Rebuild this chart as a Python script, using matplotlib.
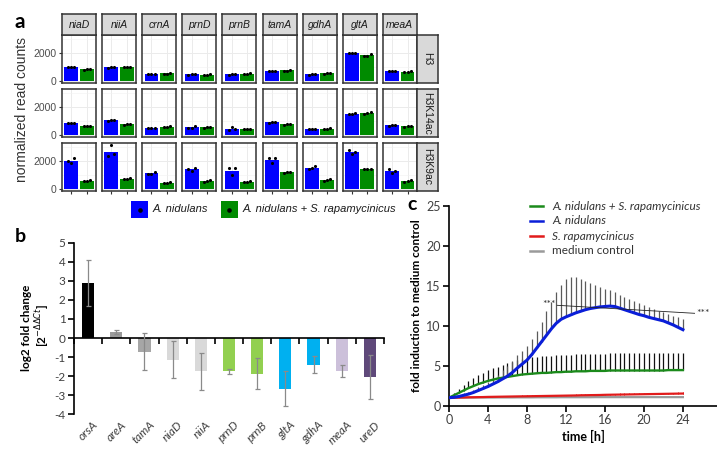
import matplotlib
matplotlib.use("Agg")
import matplotlib.pyplot as plt
from matplotlib.lines import Line2D
from matplotlib.patches import Rectangle
import numpy as np

plt.rcParams["font.family"] = ["Lato", "DejaVu Sans"]
plt.rcParams["axes.unicode_minus"] = False

# ---------------- panel a: normalized read counts, 3 replicates per bar
genes_a = ["niaD", "niiA", "crnA", "prnD", "prnB", "tamA", "gdhA", "gltA", "meaA"]
marks = ["H3", "H3K14ac", "H3K9ac"]
h3_an = [[950, 990, 1000], [940, 990, 1000], [470, 490, 510], [430, 450, 470], [430, 450, 470],
         [690, 710, 730], [430, 450, 470], [1950, 1980, 2000], [690, 710, 730]]
h3_co = [[790, 820, 860], [950, 980, 1010], [490, 510, 560], [410, 430, 460], [470, 500, 530],
         [700, 730, 780], [490, 520, 550], [1740, 1770, 1900], [610, 640, 690]]
k14_an = [[820, 840, 860], [1000, 1020, 1040], [460, 480, 500], [470, 500, 620], [330, 530, 380],
          [860, 890, 930], [390, 410, 430], [1450, 1500, 1560], [640, 670, 720]]
k14_co = [[620, 640, 660], [710, 740, 770], [540, 570, 600], [500, 530, 560], [380, 400, 420],
          [700, 740, 790], [410, 430, 450], [1490, 1550, 1640], [570, 600, 640]]
k9_an = [[1950, 1850, 2200], [2350, 3100, 2500], [1050, 1080, 1180], [1400, 1250, 1500], [1450, 950, 1450],
         [2220, 1800, 2200], [1380, 1460, 1600], [2750, 2450, 2600], [1420, 1150, 1300]]
k9_co = [[550, 570, 600], [670, 700, 740], [410, 440, 490], [470, 540, 630], [470, 500, 530],
         [1150, 1190, 1230], [560, 640, 720], [1380, 1400, 1440], [510, 560, 650]]

# ---------------- panel b: qRT-PCR log2 fold change
genes_b = ["orsA", "areA", "tamA", "niaD", "niiA", "prnD", "prnB", "gltA", "gdhA", "meaA", "ureD"]
log2fc = [2.9, 0.33, -0.73, -1.13, -1.75, -1.75, -1.87, -2.65, -1.4, -1.72, -2.03]
sd_b = [1.2, 0.1, 0.97, 0.97, 0.98, 0.15, 0.8, 0.92, 0.45, 0.32, 1.15]
colors_b = ["#000000", "#9a9a9a", "#a6a6a6", "#d9d9d9", "#d9d9d9", "#92d050", "#92d050",
            "#00b0f0", "#00b0f0", "#ccc0da", "#5f497a"]

# ---------------- panel c: fold induction over time (every 0.5 h)
hours = np.arange(0, 24.5, 0.5)
an_co = [1.0, 1.3, 1.6, 1.9, 2.2, 2.45, 2.7, 2.9, 3.1, 3.25, 3.4, 3.5, 3.6, 3.7, 3.8, 3.9, 3.95,
         4.0, 4.05, 4.1, 4.1, 4.15, 4.2, 4.2, 4.25, 4.25, 4.3, 4.3, 4.3, 4.35, 4.35, 4.35, 4.35,
         4.4, 4.4, 4.4, 4.4, 4.4, 4.4, 4.4, 4.4, 4.4, 4.4, 4.4, 4.4, 4.45, 4.45, 4.45, 4.45]
an_co_err = [0, 0.3, 0.5, 0.7, 0.9, 1.0, 1.1, 1.2, 1.35, 1.45, 1.5, 1.6, 1.7, 1.8, 1.9, 1.95, 2.0,
             2.05, 2.1, 2.1, 2.1, 2.1, 2.1, 2.15, 2.15, 2.15, 2.15, 2.15, 2.15, 2.15, 2.15, 2.15, 2.15,
             2.15, 2.15, 2.15, 2.15, 2.15, 2.15, 2.15, 2.15, 2.15, 2.15, 2.15, 2.15, 2.1, 2.1, 2.1, 2.1]
an = [1.0, 1.05, 1.15, 1.3, 1.45, 1.65, 1.9, 2.15, 2.4, 2.7, 3.0, 3.35, 3.7, 4.15, 4.7, 5.2, 5.7,
      6.4, 7.2, 8.0, 8.8, 9.6, 10.3, 10.8, 11.1, 11.35, 11.6, 11.8, 12.0, 12.15, 12.25, 12.35, 12.4,
      12.45, 12.4, 12.2, 12.0, 11.8, 11.6, 11.4, 11.25, 11.05, 10.9, 10.75, 10.6, 10.35, 10.1, 9.8, 9.5]
an_err = [0, 0.1, 0.2, 0.25, 0.3, 0.35, 0.4, 0.5, 0.6, 0.75, 0.9, 1.1, 1.3, 1.5, 1.6, 1.7, 1.8,
          1.95, 2.1, 2.5, 3.0, 3.4, 3.9, 4.3, 4.7, 4.8, 4.5, 4.0, 3.6, 3.2, 2.85, 2.5, 2.2,
          2.0, 1.8, 1.7, 1.6, 1.55, 1.5, 1.45, 1.35, 1.3, 1.2, 1.15, 1.1, 1.1, 1.1, 1.3, 1.4]
sr = [1.0, 1.0, 1.02, 1.03, 1.05, 1.06, 1.07, 1.08, 1.1, 1.11, 1.12, 1.13, 1.14, 1.15, 1.16, 1.17, 1.18,
      1.19, 1.2, 1.21, 1.22, 1.23, 1.24, 1.25, 1.26, 1.27, 1.28, 1.3, 1.31, 1.32, 1.33, 1.34, 1.36,
      1.37, 1.38, 1.39, 1.4, 1.41, 1.42, 1.43, 1.44, 1.45, 1.46, 1.47, 1.48, 1.49, 1.5, 1.51, 1.52]
sr_err = [0, 0.05, 0.06, 0.07, 0.08, 0.08, 0.09, 0.09, 0.1, 0.1, 0.1, 0.1, 0.1, 0.11, 0.11, 0.11, 0.11,
          0.12, 0.12, 0.12, 0.12, 0.12, 0.12, 0.13, 0.13, 0.13, 0.13, 0.13, 0.13, 0.14, 0.14, 0.14, 0.14,
          0.14, 0.14, 0.14, 0.15, 0.15, 0.15, 0.15, 0.15, 0.15, 0.15, 0.15, 0.15, 0.15, 0.15, 0.15, 0.15]
medium = [1.0, 1.0, 1.0, 1.01, 1.01, 1.01, 1.02, 1.02, 1.02, 1.02, 1.03, 1.03, 1.03, 1.03, 1.04, 1.04, 1.04,
          1.04, 1.05, 1.05, 1.05, 1.05, 1.05, 1.06, 1.06, 1.06, 1.06, 1.06, 1.06, 1.06, 1.07, 1.07, 1.07,
          1.07, 1.07, 1.07, 1.07, 1.07, 1.07, 1.07, 1.07, 1.07, 1.07, 1.07, 1.07, 1.07, 1.07, 1.07, 1.07]

W, H = 717, 462
fig = plt.figure(figsize=(W / 100, H / 100), dpi=100)


def px(x0, y0, x1, y1):
    # pixel box (origin top-left) -> figure rect
    return [x0 / W, 1 - y1 / H, (x1 - x0) / W, (y1 - y0) / H]


def strip(sax, label, rot):
    sax.set_facecolor("#d9d9d9")
    sax.set_xticks([])
    sax.set_yticks([])
    for s in sax.spines.values():
        s.set_color("#333333")
        s.set_linewidth(1.1)
    sax.text(0.5, 0.5, label, transform=sax.transAxes, ha="center", va="center", rotation=rot,
             fontsize=7.5, color="#1a1a1a", family="Liberation Sans",
             style="italic" if rot == 0 else "normal")


ARIAL = "Liberation Sans"
BLUE = "#0000ff"
GREEN = "#008b00"

reps = [(h3_an, h3_co), (k14_an, k14_co), (k9_an, k9_co)]
for r, mark in enumerate(marks):
    top = 35 + r * 54
    for c, gene in enumerate(genes_a):
        left = 62 + c * 40.1
        ax = fig.add_axes(px(left, top, left + 34, top + 48))
        for k, (vals, col) in enumerate(zip((reps[r][0][c], reps[r][1][c]), (BLUE, GREEN))):
            ax.bar(k + 1, np.mean(vals), width=0.9, color=col, zorder=2)
            ax.scatter(np.array([-0.2, 0.0, 0.2]) + k + 1, vals, s=5, color="black",
                       linewidths=0, zorder=3)
        ax.set_xlim(0.4, 2.6)
        ax.set_ylim(-155, 3255)
        ax.set_xticks([1, 2])
        ax.set_yticks([0, 2000], labels=["0", "2000"], family=ARIAL)
        ax.set_yticks([1000, 3000], minor=True)
        ax.set_axisbelow(True)
        ax.grid(True, which="major", color="#ebebeb", lw=0.7)
        ax.grid(True, which="minor", axis="y", color="#f2f2f2", lw=0.4)
        for s in ax.spines.values():
            s.set_color("#333333")
            s.set_linewidth(1.1)
        ax.tick_params(which="both", length=0, labelleft=False, labelbottom=False)
        if c == 0:
            ax.tick_params(axis="y", which="major", length=2.5, width=0.8, color="#333333",
                           labelleft=True, labelsize=7.5, labelcolor="#4d4d4d", pad=1.5)
        if r == 2:
            ax.tick_params(axis="x", which="major", length=2.5, width=0.8, color="#333333")
        if r == 0:
            strip(fig.add_axes(px(left, 14, left + 34, 35)), gene, 0)
        if c == len(genes_a) - 1:
            strip(fig.add_axes(px(417, top, 438, top + 48)), mark, -90)

fig.text(22 / W, 1 - 110 / H, "normalized read counts", rotation=90, ha="center", va="center",
         fontsize=10, color="#333333", family=ARIAL)

# legend of panel a
for x0, col, lab in [(131, BLUE, "A. nidulans"), (221, GREEN, "A. nidulans + S. rapamycinicus")]:
    fig.add_artist(Rectangle((x0 / W, 1 - 218 / H), 17 / W, 17 / H, facecolor=col, edgecolor="none",
                             transform=fig.transFigure))
    fig.add_artist(Line2D([(x0 + 8.5) / W], [1 - 209.5 / H], marker="o", markersize=2.3,
                          color="black", transform=fig.transFigure))
    fig.text((x0 + 22) / W, 1 - 209.5 / H, lab, ha="left", va="center", fontsize=8,
             style="italic", color="#1a1a1a", family=ARIAL)

# ---------------- panel b
axb = fig.add_axes(px(74, 242.7, 384, 414.3))
xb = np.arange(len(genes_b))
axb.bar(xb, log2fc, width=0.43, color=colors_b, zorder=2)
axb.errorbar(xb, log2fc, yerr=sd_b, fmt="none", ecolor="#8a8a8a", elinewidth=0.9,
             capsize=1.8, capthick=0.9, zorder=3)
axb.set_xlim(-0.5, len(genes_b) - 0.5)
axb.set_ylim(-4, 5)
axb.spines[["top", "right"]].set_visible(False)
axb.spines["bottom"].set_position(("data", 0))
for s in ("left", "bottom"):
    axb.spines[s].set_linewidth(1.2)
axb.set_xticks(np.arange(-0.5, len(genes_b), 1))
axb.set_xticklabels([])
axb.set_yticks(range(-4, 6))
axb.tick_params(direction="out", length=4, width=1.2, labelsize=8.5, labelcolor="#404040", pad=2)
for i, g in enumerate(genes_b):
    axb.text(i + 0.15, -4.25, g, rotation=45, ha="right", va="top", rotation_mode="anchor",
             style="italic", fontsize=8.5, color="#404040")
fig.text(27 / W, 1 - 328 / H, "log2 fold change", rotation=90, ha="center", va="center",
         fontsize=8.5, weight="bold")
fig.text(43 / W, 1 - 326 / H, r"[2$^{-\Delta\Delta Ct}$]", rotation=90, ha="center", va="center",
         fontsize=8.5, weight="bold")

# ---------------- panel c
axc = fig.add_axes(px(449, 205.7, 717, 405.7))
C_GREEN, C_BLUE, C_RED, C_GREY = "#1b8a1b", "#0a1ed8", "#e11b1b", "#9a9a9a"
axc.vlines(hours, an_co, np.add(an_co, an_co_err), color="#111111", lw=0.9, zorder=1)
axc.vlines(hours, an, np.add(an, an_err), color="#5a5a5a", lw=0.9, zorder=1)
axc.vlines(hours, sr, np.add(sr, sr_err), color=C_RED, lw=0.7, zorder=1)
axc.plot(hours, medium, color=C_GREY, lw=1.6, zorder=2)
axc.plot(hours, sr, color=C_RED, lw=1.6, zorder=3)
axc.plot(hours, an_co, color=C_GREEN, lw=1.7, zorder=4)
axc.plot(hours, an, color=C_BLUE, lw=2.2, zorder=5)
axc.set_xlim(0, 27.5)
axc.set_ylim(0, 25)
axc.set_xticks(range(0, 25, 4))
axc.set_yticks(range(0, 26, 5))
axc.spines[["top", "right"]].set_visible(False)
for s in ("left", "bottom"):
    axc.spines[s].set_linewidth(1.2)
axc.tick_params(direction="out", length=4, width=1.2, labelsize=9, labelcolor="#404040", pad=2)
axc.set_xlabel("time [h]", fontsize=9, weight="bold", labelpad=3)
axc.set_ylabel("fold induction to medium control", fontsize=8.5, weight="bold", labelpad=3)

# significance bracket between co-culture and A. nidulans
axc.plot([11.1, 25.2], [12.55, 11.55], color="#222222", lw=0.6, zorder=6, clip_on=False)
axc.text(11.0, 12.6, "***", ha="right", va="center", fontsize=7.5, color="#333333")
axc.text(25.4, 11.5, "***", ha="left", va="center", fontsize=7.5, color="#333333")

legend_c = [("A. nidulans + S. rapamycinicus", C_GREEN, "italic"), ("A. nidulans", C_BLUE, "italic"),
            ("S. rapamycinicus", C_RED, "italic"), ("medium control", C_GREY, "normal")]
for i, (lab, col, st) in enumerate(legend_c):
    y = 1 - (206 + i * 15) / H
    fig.add_artist(Line2D([530 / W, 543 / W], [y, y], color=col, lw=1.8, transform=fig.transFigure))
    fig.text(552 / W, y, lab, style=st, fontsize=8.5, va="center", color="#333333")

# panel letters
fig.text(20 / W, 1 - 22 / H, "a", fontsize=15, weight="bold", ha="center", va="center")
fig.text(20 / W, 1 - 236 / H, "b", fontsize=14, weight="bold", ha="center", va="center")
fig.text(412 / W, 1 - 205 / H, "c", fontsize=14, weight="bold", ha="center", va="center")

fig.savefig("out.png", dpi=100)
